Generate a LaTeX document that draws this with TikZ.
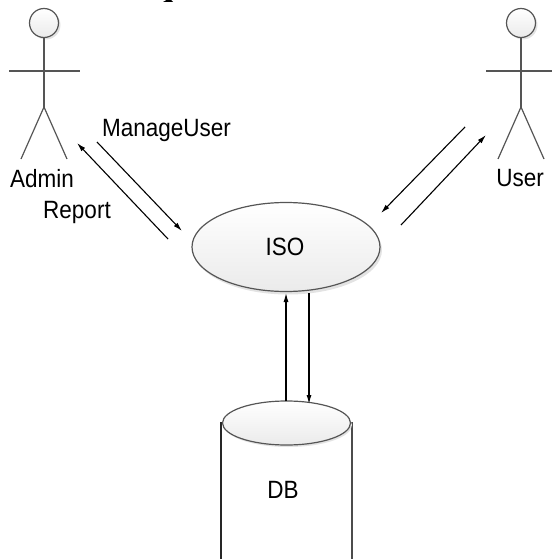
\documentclass[tikz,border=0pt]{standalone}
\usepackage{fontspec}
\setmainfont[FakeStretch=0.9]{Liberation Sans}
\usetikzlibrary{arrows.meta,shapes.geometric}
\definecolor{linegray}{HTML}{555555}
\tikzset{
  x=1pt,y=-1pt,
  actorline/.style={draw=linegray,line width=1.2pt},
  flow/.style={draw=black,line width=1.1pt,-{Latex[length=9pt,width=5pt]}},
  lab/.style={inner sep=0pt,font=\fontsize{25}{27}\selectfont,text=black},
  bubble/.style={ellipse,draw=linegray,line width=1.2pt,top color=white,bottom color=black!8,inner sep=0pt,outer sep=0pt},
  shadowshape/.style={fill=black!11,draw=none},
}
\begin{document}
\begin{tikzpicture}
\useasboundingbox (0,0) rectangle (552,559);
\clip (0,0) rectangle (552,559);
% cut-off glyph at the top edge
\fill[black] (163,2) -- (165,1) -- (166,0) -- (171,0) -- (172,1) -- (173,2) -- cycle;
% Admin actor
\fill[shadowshape] (46,25) circle (14.5);
\node[bubble,minimum width=29pt,minimum height=29pt] (adminhead) at (44,23) {};
\coordinate (adminhip) at (44,107);
\coordinate (adminarmL) at (9,71);
\coordinate (adminarmR) at (80,71);
\coordinate (adminfootL) at (21,159);
\coordinate (adminfootR) at (67,159);
\draw[actorline] (adminhead.south) -- (adminhip);
\draw[actorline] (adminarmL) -- (adminarmR);
\draw[actorline] (adminfootL) -- (adminhip) -- (adminfootR);
\node[lab] (adminlabel) at (42,179) {Admin};
% User actor
\fill[shadowshape] (523,25) circle (14.5);
\node[bubble,minimum width=29pt,minimum height=29pt] (userhead) at (521,23) {};
\coordinate (userhip) at (521,107);
\coordinate (userarmL) at (486,71);
\coordinate (userarmR) at (552,71);
\coordinate (userfootL) at (498,159);
\coordinate (userfootR) at (544,159);
\draw[actorline] (userhead.south) -- (userhip);
\draw[actorline] (userarmL) -- (userarmR);
\draw[actorline] (userfootL) -- (userhip) -- (userfootR);
\node[lab] (userlabel) at (520,178) {User};
% ISO
\fill[shadowshape] (288,250) ellipse (94 and 44.5);
\node[bubble,minimum width=188pt,minimum height=89pt] (iso) at (286,247) {};
\node[lab] (isolabel) at (285,247) {ISO};
% DB
\draw[draw=black!85,line width=1.6pt] (221,422) -- (221,559);
\draw[draw=black!70,line width=1.2pt] (352,422) -- (352,559);
\fill[shadowshape] (288,425) ellipse (64 and 22);
\node[bubble,minimum width=128pt,minimum height=44pt] (db) at (286.5,423) {};
\node[lab] (dblabel) at (283,490) {DB};
% free ends of the connectors
\coordinate (mA) at (97,142);
\coordinate (mB) at (182,231);
\coordinate (rA) at (168,239);
\coordinate (rB) at (77,143);
\coordinate (uA) at (465,127);
\coordinate (uB) at (381,213);
\coordinate (vA) at (401,225);
\coordinate (vB) at (486,135);
\coordinate (dA) at (286,401);
\coordinate (dB) at (286,293);
\coordinate (eA) at (309,293);
\coordinate (eB) at (309,404);
\draw[flow] (mA) -- (mB);
\draw[flow] (rA) -- (rB);
\draw[flow] (uA) -- (uB);
\draw[flow] (vA) -- (vB);
\draw[flow] (dA) -- (dB);
\draw[flow] (eA) -- (eB);
\node[lab] (manage) at (166.5,130) {ManageUser};
\node[lab] (report) at (77,212) {Report};
\end{tikzpicture}
\end{document}
